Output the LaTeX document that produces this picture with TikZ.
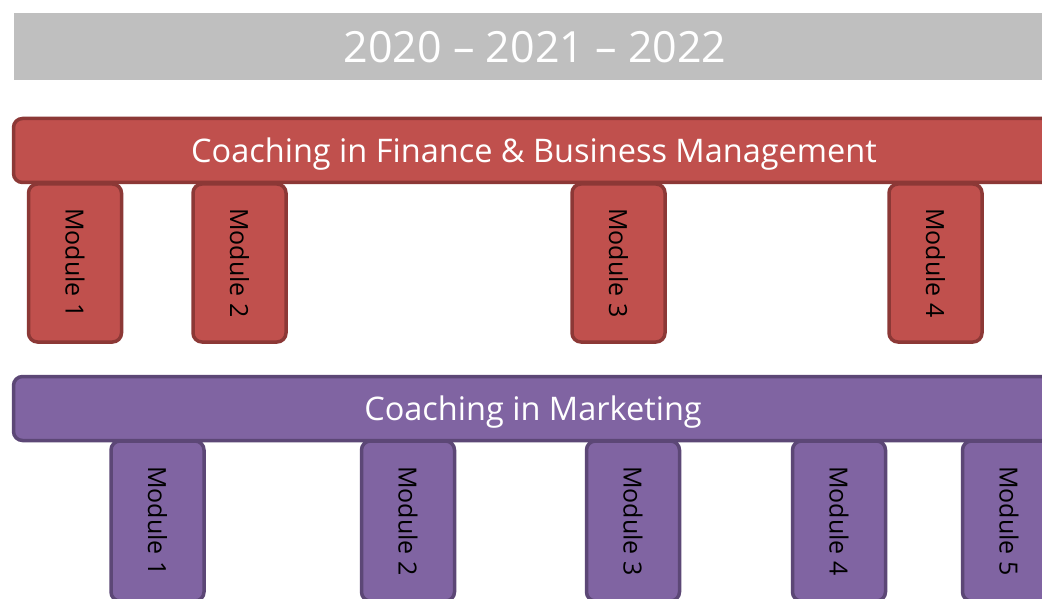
\documentclass[tikz,border=0pt]{standalone}
\usepackage{fontspec}
\setmainfont{Open Sans}
\definecolor{redfill}{HTML}{C0504D}
\definecolor{redline}{HTML}{8C3836}
\definecolor{purfill}{HTML}{8064A2}
\definecolor{purline}{HTML}{5C4776}
\definecolor{greyfill}{HTML}{BFBFBF}
\begin{document}
\begin{tikzpicture}[x=1pt,y=-1pt,
  bar/.style={rounded corners=9pt, line width=3.5pt},
  redbar/.style={bar, fill=redfill, draw=redline},
  purbar/.style={bar, fill=purfill, draw=purline},
  modbox/.style={rounded corners=9pt, line width=3.5pt, minimum width=93pt, inner sep=0pt},
  redmod/.style={modbox, fill=redfill, draw=redline, minimum height=158pt},
  purmod/.style={modbox, fill=purfill, draw=purline, minimum height=160pt},
  modtext/.style={rotate=-90, text=black, font=\fontsize{25}{30}\selectfont},
  bartext/.style={text=white, font=\fontsize{32.5}{38}\selectfont}]
\useasboundingbox (0,0) rectangle (1042,599);
\clip (0,0) rectangle (1042,599);
\fill[white] (0,0) rectangle (1042,599);
% title
\fill[greyfill] (14,13) rectangle (1060,80);
\node[text=white, font=\fontsize{43}{50}\selectfont] (title) at (535,47.5) {2020 – 2021 – 2022};
% red modules
\node[redmod] (r1) at (75,263) {};
\node[redmod] (r2) at (239.5,263) {};
\node[redmod] (r3) at (618.5,263) {};
\node[redmod] (r4) at (935.5,263) {};
\node[modtext] (r1t) at (r1) {Module 1};
\node[modtext] (r2t) at (r2) {Module 2};
\node[modtext] (r3t) at (r3) {Module 3};
\node[modtext] (r4t) at (r4) {Module 4};
% red bar
\draw[redbar] (13.5,118.5) rectangle (1070,182.5);
\node[bartext] (redlabel) at (534,154) {Coaching in Finance \& Business Management};
% purple modules
\node[purmod] (p1) at (157.5,521) {};
\node[purmod] (p2) at (408,521) {};
\node[purmod] (p3) at (633,521) {};
\node[purmod] (p4) at (839,521) {};
\node[purmod] (p5) at (1009,521) {};
\node[modtext] (p1t) at (p1) {Module 1};
\node[modtext] (p2t) at (p2) {Module 2};
\node[modtext] (p3t) at (p3) {Module 3};
\node[modtext] (p4t) at (p4) {Module 4};
\node[modtext] (p5t) at (p5) {Module 5};
% purple bar
\draw[purbar] (13.5,376.5) rectangle (1070,440.5);
\node[bartext] (purlabel) at (533,412) {Coaching in Marketing};
\end{tikzpicture}
\end{document}
